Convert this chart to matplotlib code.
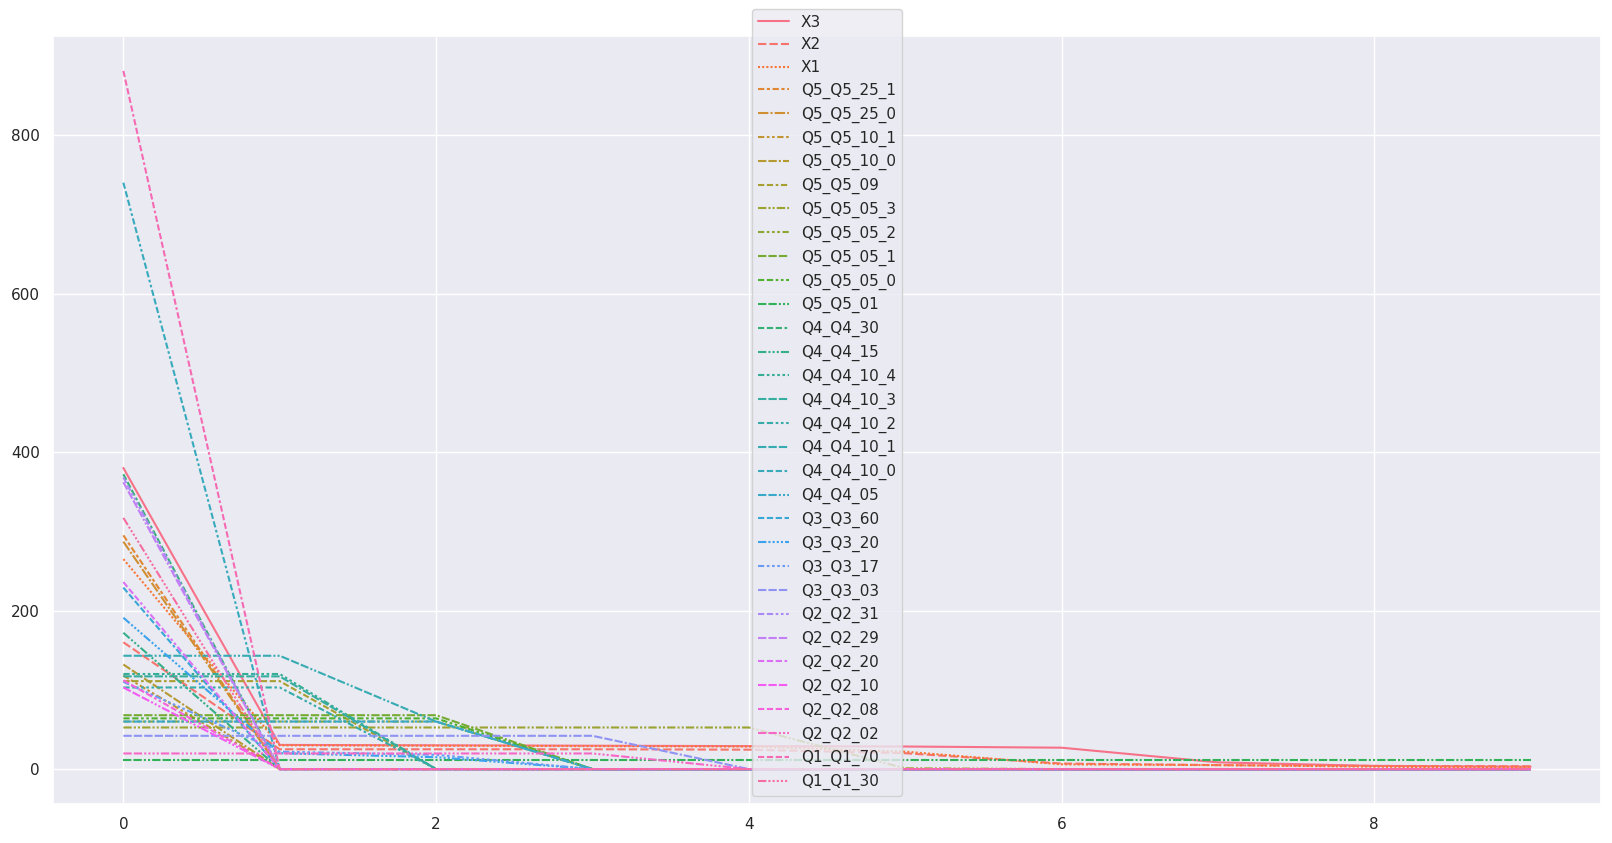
import pandas as pd
import seaborn as sns
from matplotlib import pyplot as plt

# 每个序列在 x = 0..9 上的取值
X3 = [380, 30.5, 30, 29.5, 29, 28.5, 27, 8.5, 4, 3]
X2 = [160, 25, 25, 25, 24.5, 20, 7, 5, 4, 3.5]
X1 = [265, 30, 29.5, 29, 28.5, 22, 6, 5, 3, 2]
Q5_Q5_25_1 = [295, 0, 0, 0, 0, 0, 0, 0, 0, 0]
Q5_Q5_25_0 = [287, 0, 0, 0, 0, 0, 0, 0, 0, 0]
Q5_Q5_10_1 = [118, 0, 0, 0, 0, 0, 0, 0, 0, 0]
Q5_Q5_10_0 = [132, 0, 0, 0, 0, 0, 0, 0, 0, 0]
Q5_Q5_09 = [111, 111, 0, 0, 0, 0, 0, 0, 0, 0]
Q5_Q5_05_3 = [52.5, 52.5, 52.5, 52.5, 52.5, 1, 0, 0, 0, 0]
Q5_Q5_05_2 = [60, 60, 60, 0, 0, 0, 0, 0, 0, 0]
Q5_Q5_05_1 = [68, 68, 68, 0, 0, 0, 0, 0, 0, 0]
Q5_Q5_05_0 = [64, 64, 64, 0, 0, 0, 0, 0, 0, 0]
Q5_Q5_01 = [11.8, 11.8, 11.8, 11.8, 11.8, 11.8, 11.8, 11.8, 11.8, 11.8]
Q4_Q4_30 = [372, 0, 0, 0, 0, 0, 0, 0, 0, 0]
Q4_Q4_15 = [172, 0, 0, 0, 0, 0, 0, 0, 0, 0]
Q4_Q4_10_4 = [120, 120, 0, 0, 0, 0, 0, 0, 0, 0]
Q4_Q4_10_3 = [117, 117, 0, 0, 0, 0, 0, 0, 0, 0]
Q4_Q4_10_2 = [103, 103, 0, 0, 0, 0, 0, 0, 0, 0]
Q4_Q4_10_1 = [143, 143, 60, 0, 0, 0, 0, 0, 0, 0]
Q4_Q4_10_0 = [740, 0, 0, 0, 0, 0, 0, 0, 0, 0]
Q4_Q4_05 = [60, 60, 60, 0, 0, 0, 0, 0, 0, 0]
Q3_Q3_60 = [229, 0, 0, 0, 0, 0, 0, 0, 0, 0]
Q3_Q3_20 = [191, 20, 15, 0, 0, 0, 0, 0, 0, 0]
Q3_Q3_17 = [110, 22, 18, 0, 0, 0, 0, 0, 0, 0]
Q3_Q3_03 = [42, 42, 42, 42, 0, 0, 0, 0, 0, 0]
Q2_Q2_31 = [368, 0, 0, 0, 0, 0, 0, 0, 0, 0]
Q2_Q2_29 = [362, 0, 0, 0, 0, 0, 0, 0, 0, 0]
Q2_Q2_20 = [236, 0, 0, 0, 0, 0, 0, 0, 0, 0]
Q2_Q2_10 = [103, 0, 0, 0, 0, 0, 0, 0, 0, 0]
Q2_Q2_08 = [112, 0, 0, 0, 0, 0, 0, 0, 0, 0]
Q2_Q2_02 = [19.7, 19.7, 19.7, 19.7, 0, 0, 0, 0, 0, 0]
Q1_Q1_70 = [881, 0, 0, 0, 0, 0, 0, 0, 0, 0]
Q1_Q1_30 = [317, 0, 0, 0, 0, 0, 0, 0, 0, 0]

df = pd.DataFrame({
    'X3': X3, 'X2': X2, 'X1': X1,
    'Q5_Q5_25_1': Q5_Q5_25_1, 'Q5_Q5_25_0': Q5_Q5_25_0,
    'Q5_Q5_10_1': Q5_Q5_10_1, 'Q5_Q5_10_0': Q5_Q5_10_0,
    'Q5_Q5_09': Q5_Q5_09, 'Q5_Q5_05_3': Q5_Q5_05_3,
    'Q5_Q5_05_2': Q5_Q5_05_2, 'Q5_Q5_05_1': Q5_Q5_05_1,
    'Q5_Q5_05_0': Q5_Q5_05_0, 'Q5_Q5_01': Q5_Q5_01,
    'Q4_Q4_30': Q4_Q4_30, 'Q4_Q4_15': Q4_Q4_15,
    'Q4_Q4_10_4': Q4_Q4_10_4, 'Q4_Q4_10_3': Q4_Q4_10_3,
    'Q4_Q4_10_2': Q4_Q4_10_2, 'Q4_Q4_10_1': Q4_Q4_10_1,
    'Q4_Q4_10_0': Q4_Q4_10_0, 'Q4_Q4_05': Q4_Q4_05,
    'Q3_Q3_60': Q3_Q3_60, 'Q3_Q3_20': Q3_Q3_20,
    'Q3_Q3_17': Q3_Q3_17, 'Q3_Q3_03': Q3_Q3_03,
    'Q2_Q2_31': Q2_Q2_31, 'Q2_Q2_29': Q2_Q2_29,
    'Q2_Q2_20': Q2_Q2_20, 'Q2_Q2_10': Q2_Q2_10,
    'Q2_Q2_08': Q2_Q2_08, 'Q2_Q2_02': Q2_Q2_02,
    'Q1_Q1_70': Q1_Q1_70, 'Q1_Q1_30': Q1_Q1_30,
})

sns.set_theme()

fig = plt.figure(figsize=(16.12, 8.43), dpi=100)
ax = fig.add_axes([53 / 1612, 39 / 843, 1548 / 1612, 768 / 843])
sns.lineplot(data=df, ax=ax)
ax.legend(loc='lower center')

fig.savefig('out.png', dpi=100)
